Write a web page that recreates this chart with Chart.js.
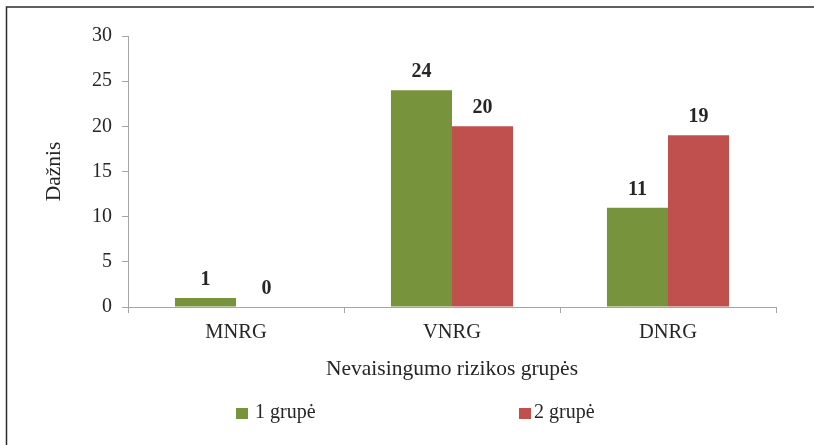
<!DOCTYPE html>
<html>
<head>
<meta charset="utf-8">
<script src="https://cdn.jsdelivr.net/npm/chart.js@4/dist/chart.umd.min.js"></script>
<style>
  html, body { margin: 0; padding: 0; background: #fff; }
  #wrap { position: relative; width: 814px; height: 445px; }
</style>
</head>
<body>
<div id="wrap"><canvas id="c" width="814" height="445"></canvas></div>
<script>
// Risk groups and counts per study group
const categories = ['MNRG', 'VNRG', 'DNRG'];
const seriesLabels = ['1 grupė', '2 grupė'];
const group1 = [1, 24, 11];
const group2 = [0, 20, 19];
const yTicks = [0, 5, 10, 15, 20, 25, 30];

const SERIF = '"Liberation Serif", "Times New Roman", Times, serif';
const AXIS_GREY = '#a6a6a6';
const TEXT = '#262626';

// Frame lines along the top and left edge
const framePlugin = {
  id: 'frame',
  beforeDraw(chart) {
    const ctx = chart.ctx;
    ctx.save();
    ctx.strokeStyle = '#2b2b2b';
    ctx.lineWidth = 1.5;
    ctx.beginPath();
    ctx.moveTo(6.5, chart.height);
    ctx.lineTo(6.5, 7);
    ctx.lineTo(chart.width, 7);
    ctx.stroke();
    ctx.restore();
  }
};

// Value labels above each bar
const valueLabels = {
  id: 'valueLabels',
  afterDatasetsDraw(chart) {
    const ctx = chart.ctx;
    ctx.save();
    ctx.font = 'bold 20px ' + SERIF;
    ctx.fillStyle = TEXT;
    ctx.textAlign = 'center';
    ctx.textBaseline = 'alphabetic';
    chart.data.datasets.forEach((ds, i) => {
      const meta = chart.getDatasetMeta(i);
      meta.data.forEach((bar, j) => {
        ctx.fillText(String(ds.data[j]), bar.x, bar.y - 13);
      });
    });
    ctx.restore();
  }
};

// Legend row under the axis title
const bottomLegend = {
  id: 'bottomLegend',
  afterDraw(chart, args, opts) {
    const ctx = chart.ctx;
    ctx.save();
    ctx.font = '20px ' + SERIF;
    ctx.textBaseline = 'alphabetic';
    ctx.textAlign = 'left';
    chart.data.datasets.forEach((ds, i) => {
      const x = opts.positions[i];
      ctx.fillStyle = ds.backgroundColor;
      ctx.fillRect(x, opts.boxTop, 12, 11);
      ctx.fillStyle = TEXT;
      ctx.fillText(ds.label, x + opts.textGap[i], opts.baseline);
    });
    ctx.restore();
  }
};

new Chart(document.getElementById('c'), {
  type: 'bar',
  data: {
    labels: categories,
    datasets: [
      { label: seriesLabels[0], data: group1, backgroundColor: '#77933c', borderWidth: 0 },
      { label: seriesLabels[1], data: group2, backgroundColor: '#c0504d', borderWidth: 0 }
    ]
  },
  options: {
    responsive: false,
    animation: false,
    devicePixelRatio: 1,
    layout: { padding: { left: 0, right: 38, top: 36, bottom: 63 } },
    datasets: { bar: { categoryPercentage: 0.565, barPercentage: 1.0 } },
    plugins: {
      legend: { display: false },
      tooltip: { enabled: false },
      bottomLegend: { positions: [236, 519], textGap: [19, 15], boxTop: 408, baseline: 418 }
    },
    scales: {
      x: {
        afterFit(scale) { scale.height = 75; },
        grid: { display: true, drawOnChartArea: false, drawTicks: true, tickLength: 6, color: AXIS_GREY, offset: true },
        border: { display: true, color: AXIS_GREY, width: 1 },
        ticks: { color: TEXT, font: { family: SERIF, size: 20.5 }, padding: 7 },
        title: {
          display: true, text: 'Nevaisingumo rizikos grupės',
          color: TEXT, font: { family: SERIF, size: 21.5 }, padding: { top: 0, bottom: 0 }
        }
      },
      y: {
        min: 0, max: 30,
        afterFit(scale) { scale.width = 128; },
        afterBuildTicks(scale) { scale.ticks = yTicks.map(v => ({ value: v })); },
        grid: { display: true, drawOnChartArea: false, drawTicks: true, tickLength: 6, color: AXIS_GREY },
        border: { display: true, color: AXIS_GREY, width: 1 },
        ticks: { color: TEXT, font: { family: SERIF, size: 20 }, padding: 10 },
        title: {
          display: true, text: 'Dažnis',
          color: TEXT, font: { family: SERIF, size: 21.5 }, padding: { top: 41, bottom: 0 }
        }
      }
    }
  },
  plugins: [framePlugin, valueLabels, bottomLegend]
});
</script>
</body>
</html>
